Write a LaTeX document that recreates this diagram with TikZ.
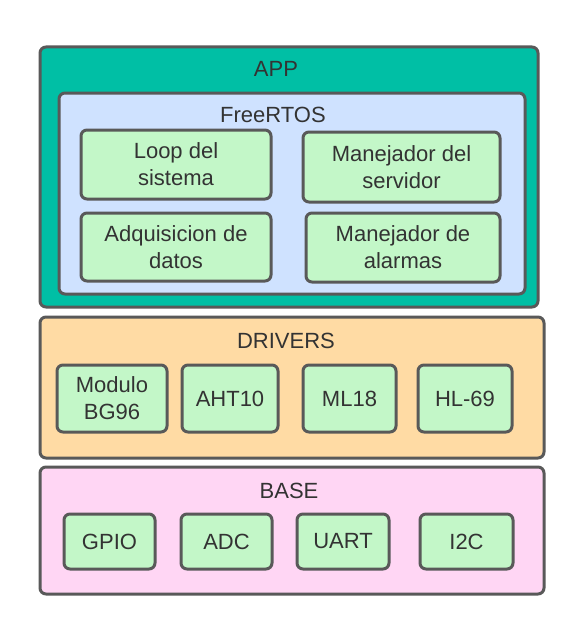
\documentclass[tikz,border=0pt]{standalone}
\usepackage{fontspec}
\setmainfont{Liberation Sans}
\usetikzlibrary{positioning}

\definecolor{edgegray}{HTML}{595959}
\definecolor{txtgray}{HTML}{333333}
\definecolor{appfill}{HTML}{00BFA5}
\definecolor{rtosfill}{HTML}{CFE2FF}
\definecolor{taskfill}{HTML}{C3F7C8}
\definecolor{drvfill}{HTML}{FFDBA4}
\definecolor{basefill}{HTML}{FFD6F4}

\begin{document}
\begin{tikzpicture}[
    x=1pt, y=-1pt,
    layer/.style={draw=edgegray, line width=3pt, rounded corners=6pt, inner sep=0pt},
    taskbox/.style={draw=edgegray, line width=3pt, rounded corners=6pt, fill=taskfill,
        inner sep=0pt, align=center, text=txtgray},
    title/.style={text=txtgray, inner sep=0pt},
    font=\fontsize{22}{27}\selectfont
    ]
    \useasboundingbox (0,0) rectangle (584,634);

    %Layers
    \node[layer, fill=appfill, minimum width=498pt, minimum height=260pt] (app) at (289,177) {};
    \node[title] (applbl) at (276,69) {APP};
    \node[layer, fill=rtosfill, minimum width=466pt, minimum height=201pt] (rtos) at (292,193.5) {};
    \node[title] (rtoslbl) at (273,114.5) {FreeRTOS};

    \node[layer, fill=drvfill, minimum width=504pt, minimum height=141pt] (drv) at (292,387.5) {};
    \node[title] (drvlbl) at (286,341) {DRIVERS};

    \node[layer, fill=basefill, minimum width=504pt, minimum height=127pt] (base) at (292,530.5) {};
    \node[title] (baselbl) at (289,491) {BASE};

    %Tasks
    \node[taskbox, minimum width=190pt, minimum height=69pt] (loop) at (176,164.5) {Loop del\\sistema};
    \node[taskbox, minimum width=197pt, minimum height=70pt] (serv) at (401.5,167) {Manejador del\\servidor};
    \node[taskbox, minimum width=190pt, minimum height=68pt] (adq) at (176,247) {Adquisicion de\\datos};
    \node[taskbox, minimum width=194pt, minimum height=69pt] (alarm) at (403,247.5) {Manejador de\\alarmas};

    %Drivers
    \node[taskbox, minimum width=110pt, minimum height=67pt] (bg96) at (112,398.5) {Modulo\\BG96};
    \node[taskbox, minimum width=96pt, minimum height=67pt] (aht) at (230,398.5) {AHT10};
    \node[taskbox, minimum width=93pt, minimum height=67pt] (ml18) at (349.5,398.5) {ML18};
    \node[taskbox, minimum width=94pt, minimum height=67pt] (hl69) at (465,398.5) {HL-69};

    %Base
    \node[taskbox, minimum width=91pt, minimum height=55pt] (gpio) at (109.5,541.5) {GPIO};
    \node[taskbox, minimum width=91pt, minimum height=55pt] (adc) at (226.5,541.5) {ADC};
    \node[taskbox, minimum width=92pt, minimum height=55pt] (uart) at (343,541.5) {UART};
    \node[taskbox, minimum width=93pt, minimum height=55pt] (i2c) at (466.5,541.5) {I2C};

\end{tikzpicture}
\end{document}
